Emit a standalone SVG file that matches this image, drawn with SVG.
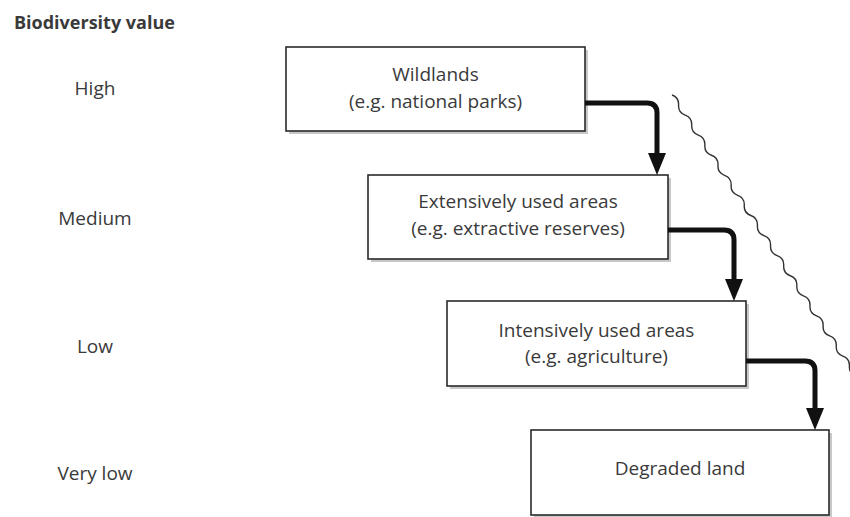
<svg xmlns="http://www.w3.org/2000/svg" width="850" height="517" viewBox="0 0 850 517">
<style>
.lbl{font-family:"Open Sans","Liberation Sans",sans-serif;font-size:19px;fill:#3a3a3a;text-anchor:middle}
.hdr{font-family:"Open Sans","Liberation Sans",sans-serif;font-size:18px;font-weight:bold;fill:#3a3a3a}
.box{fill:#fff;stroke:#2a2a2a;stroke-width:1.6}
.shadow{fill:#c8c8c8}
.conn{fill:none;stroke:#111;stroke-width:5}
.wave{fill:none;stroke:#333;stroke-width:1.4}
</style>
<defs>
<marker id="ah" viewBox="0 0 22 18" refX="0" refY="9" markerWidth="22" markerHeight="18" markerUnits="userSpaceOnUse" orient="auto">
<path d="M0,0 L22,9 L0,18 z" fill="#111"/>
</marker>
</defs>
<rect width="850" height="517" fill="#fff"/>
<g id="axis">
<text class="hdr" x="14" y="29" text-anchor="start">Biodiversity value</text>
<text class="lbl" x="95" y="95">High</text>
<text class="lbl" x="95" y="225">Medium</text>
<text class="lbl" x="95" y="353">Low</text>
<text class="lbl" x="95" y="480">Very low</text>
</g>
<g id="wildlands">
<rect class="shadow" x="289" y="50" width="299" height="84"/>
<rect class="box" x="286" y="47" width="299" height="84"/>
<text class="lbl" x="435.5" y="81">Wildlands</text>
<text class="lbl" x="435.5" y="108">(e.g. national parks)</text>
</g>
<g id="extensive">
<rect class="shadow" x="371" y="178" width="300" height="84"/>
<rect class="box" x="368" y="175" width="300" height="84"/>
<text class="lbl" x="518" y="208">Extensively used areas</text>
<text class="lbl" x="518" y="235">(e.g. extractive reserves)</text>
</g>
<g id="intensive">
<rect class="shadow" x="450" y="304" width="299" height="85"/>
<rect class="box" x="447" y="301" width="299" height="85"/>
<text class="lbl" x="596.5" y="337">Intensively used areas</text>
<text class="lbl" x="596.5" y="363">(e.g. agriculture)</text>
</g>
<g id="degraded">
<rect class="shadow" x="534" y="433" width="298" height="85"/>
<rect class="box" x="531" y="430" width="298" height="85"/>
<text class="lbl" x="680" y="475">Degraded land</text>
</g>
<g id="connectors">
<path class="conn" d="M585,103 H647 Q657,103 657,113 V153" marker-end="url(#ah)"/>
<path class="conn" d="M668,230 H724 Q734,230 734,240 V279" marker-end="url(#ah)"/>
<path class="conn" d="M746,361 H805 Q815,361 815,371 V408" marker-end="url(#ah)"/>
<path class="wave" d="M672,95 q7.06,2.55 6.57,10.04 t6.57,10.04 t6.57,10.04 t6.57,10.04 t6.57,10.04 t6.57,10.04 t6.57,10.04 t6.57,10.04 t6.57,10.04 t6.57,10.04 t6.57,10.04 t6.57,10.04 t6.57,10.04 t6.57,10.04 t6.57,10.04 t6.57,10.04 t6.57,10.04 t6.57,10.04 t6.57,10.04 t6.57,10.04 t6.57,10.04 t6.57,10.04 t6.57,10.04 t6.57,10.04 t6.57,10.04 t6.57,10.04 t6.57,10.04 t6.57,10.04"/>
</g>
</svg>
